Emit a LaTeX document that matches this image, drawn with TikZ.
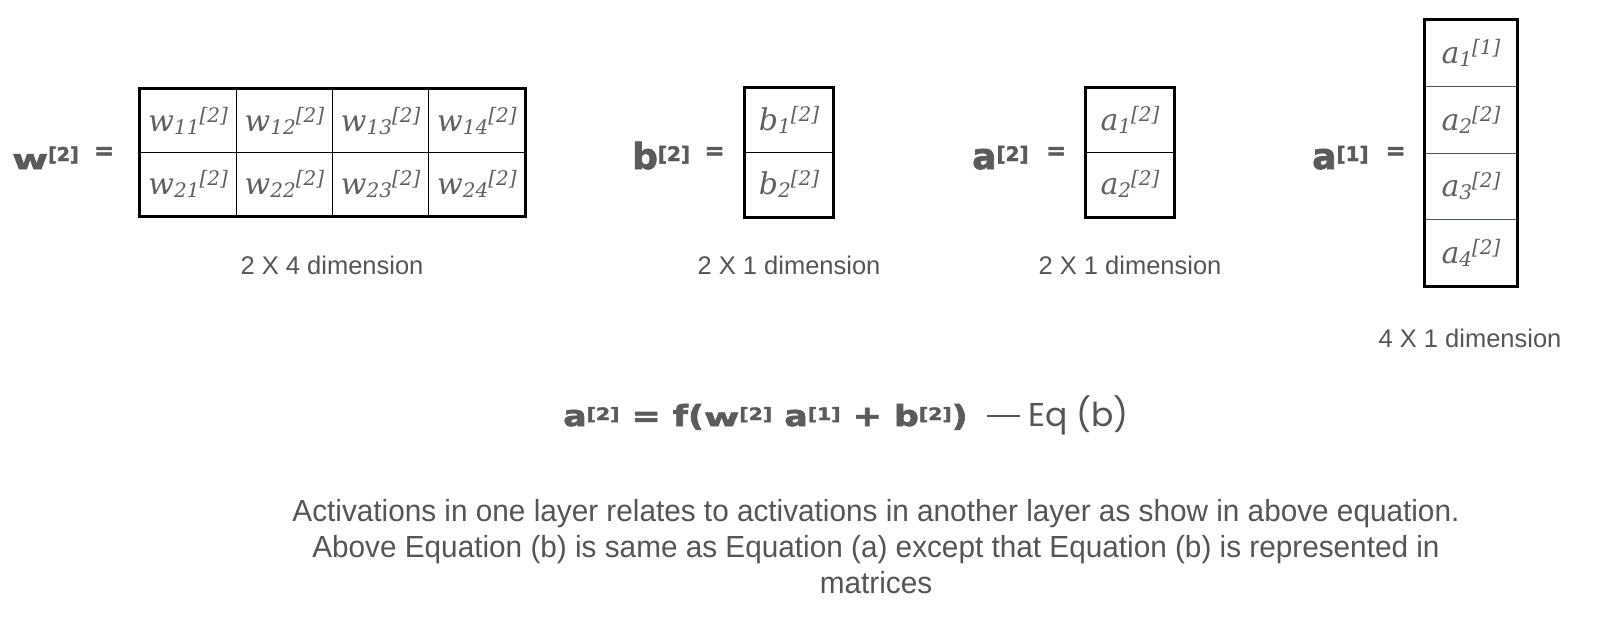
\documentclass[tikz,border=0pt]{standalone}
\usepackage{fontspec}
\usepackage{graphicx}
\newfontfamily\sansfont{Liberation Sans}
\newfontfamily\parafont[FakeStretch=0.975]{Liberation Sans}
\newfontfamily\labfont[BoldFeatures={FakeBold=2}]{DejaVu Sans}
\newfontfamily\entfont{DejaVu Serif}
\newfontfamily\eqfont{Poppins}
\definecolor{labgrey}{HTML}{5B5B5B}
\definecolor{entgrey}{HTML}{606060}
\definecolor{txtgrey}{HTML}{555555}
\definecolor{slate}{HTML}{4A5868}
\newcommand{\ent}[3]{{\entfont\itshape\fontsize{30}{32}\selectfont #1\raisebox{-3pt}{\fontsize{20}{22}\selectfont #2}\raisebox{9pt}{\fontsize{20}{22}\selectfont[#3]}}}
\newcommand{\blab}[2]{{\labfont\bfseries\fontsize{36}{40}\selectfont #1\raisebox{8pt}{\fontsize{20}{22}\selectfont[#2]}}}
\newcommand{\eqlab}[2]{#1\raisebox{6pt}{\fontsize{17}{18}\selectfont[#2]}}
\tikzset{
  cell/.style={draw=black, line width=1pt, inner sep=0pt, text=entgrey},
  wcell/.style={cell, minimum width=96.25pt, minimum height=63.5pt},
  vcell/.style={cell, minimum width=88pt, minimum height=64.5pt},
  acell/.style={cell, draw=slate, minimum width=92pt, minimum height=66.5pt},
  outer/.style={draw=black, line width=3pt},
  lab/.style={inner sep=0pt, anchor=base west, text=labgrey},
  eqsign/.style={inner sep=0pt, text=labgrey, font=\labfont\bfseries\fontsize{24}{26}\selectfont},
  dimlab/.style={inner sep=0pt, text=txtgrey, font=\sansfont\fontsize{25.5}{28}\selectfont},
}
\begin{document}
\begin{tikzpicture}[x=1pt,y=-1pt]
\useasboundingbox (0,0) rectangle (1614,626);
% W matrix
\node[wcell] (w11) at (188.125,120.75) {\ent{w}{11}{2}};
\node[wcell] (w12) at (284.375,120.75) {\ent{w}{12}{2}};
\node[wcell] (w13) at (380.625,120.75) {\ent{w}{13}{2}};
\node[wcell] (w14) at (476.875,120.75) {\ent{w}{14}{2}};
\node[wcell] (w21) at (188.125,184.25) {\ent{w}{21}{2}};
\node[wcell] (w22) at (284.375,184.25) {\ent{w}{22}{2}};
\node[wcell] (w23) at (380.625,184.25) {\ent{w}{23}{2}};
\node[wcell] (w24) at (476.875,184.25) {\ent{w}{24}{2}};
\draw[outer] (w11.north west) rectangle (w24.south east);
\node[lab] (wlab) at (12,169) {{\labfont\bfseries\fontsize{36}{40}\selectfont\scalebox{1.08}[0.75]{w}\raisebox{8pt}{\fontsize{19}{22}\selectfont[2]}}};
\node[eqsign] (weq) at (104,153) {=};
\node[dimlab] (wdim) at (332,265) {2 X 4 dimension};
% b matrix
\node[vcell] (b1) at (789,119.75) {\ent{b}{1}{2}};
\node[vcell] (b2) at (789,184.25) {\ent{b}{2}{2}};
\draw[outer] (b1.north west) rectangle (b2.south east);
\node[lab] (blab) at (632,169) {\blab{b}{2}};
\node[eqsign] (beq) at (714.5,153) {=};
\node[dimlab] (bdim) at (789,265) {2 X 1 dimension};
% a2 matrix
\node[vcell] (a21) at (1130,119.75) {\ent{a}{1}{2}};
\node[vcell] (a22) at (1130,184.25) {\ent{a}{2}{2}};
\draw[outer] (a21.north west) rectangle (a22.south east);
\node[lab] (a2lab) at (972,169) {\blab{a}{2}};
\node[eqsign] (a2eq) at (1056,153) {=};
\node[dimlab] (a2dim) at (1130,265) {2 X 1 dimension};
% a1 matrix
\node[acell] (a11) at (1471,53.25) {\ent{a}{1}{1}};
\node[acell] (a12) at (1471,119.75) {\ent{a}{2}{2}};
\node[acell] (a13) at (1471,186.25) {\ent{a}{3}{2}};
\node[acell] (a14) at (1471,252.75) {\ent{a}{4}{2}};
\draw[outer] (a11.north west) rectangle (a14.south east);
\node[lab] (a1lab) at (1312,169) {\blab{a}{1}};
\node[eqsign] (a1eq) at (1395.5,153) {=};
\node[dimlab] (a1dim) at (1470,338) {4 X 1 dimension};
% equation
\node[lab] (eqb) at (563,426) {\labfont\bfseries\fontsize{29}{32}\selectfont
  \scalebox{1.2}[1]{\eqlab{a}{2} = f(\eqlab{\scalebox{1.1}[0.85]{w}}{2} \eqlab{a}{1} + \eqlab{b}{2})}};
\node[inner sep=0pt, anchor=base west, text=txtgrey, font=\eqfont\fontsize{33}{36}\selectfont] (eqt) at (987,426) {\rule[9pt]{33pt}{1.6pt}\hspace{8pt}Eq (b)};
% paragraph
\node[inner sep=0pt, align=center, text=txtgrey, font=\parafont\fontsize{30.5}{36}\selectfont] (para) at (876,547)
  {Activations in one layer relates to activations in another layer as show in above equation.\\
   Above Equation (b) is same as Equation (a) except that Equation (b) is represented in\\
   matrices};
\end{tikzpicture}
\end{document}
